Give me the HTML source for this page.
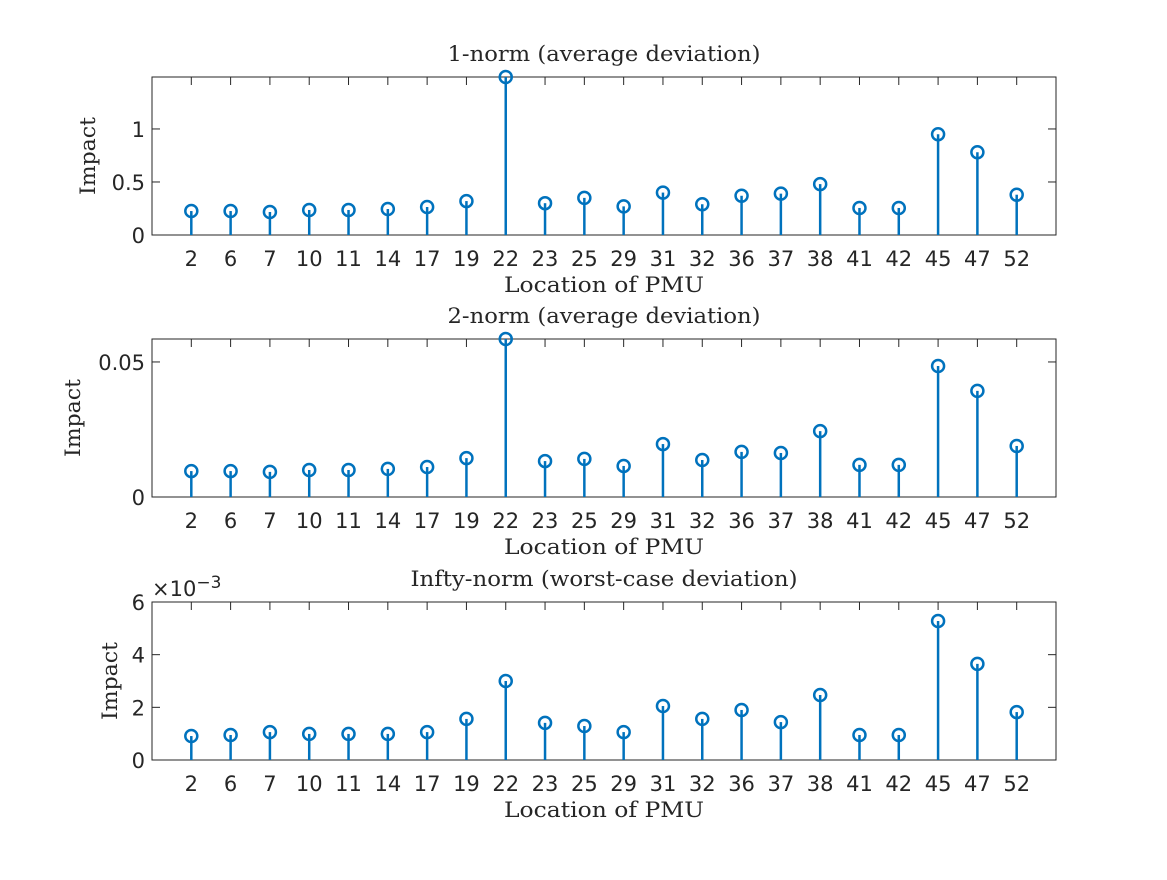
<!DOCTYPE html>
<html><head><meta charset="utf-8"><style>
body{margin:0;background:#fff;}
svg text{fill:#262626;}
.tk{font-family:"DejaVu Sans","Liberation Sans",sans-serif;font-size:21px;}
.sf{font-family:"DejaVu Serif","Liberation Serif",serif;font-size:21px;}
</style></head><body>
<svg id="chart" width="1167" height="875" xmlns="http://www.w3.org/2000/svg"></svg>
<script>
const categories=["2","6","7","10","11","14","17","19","22","23","25","29","31","32","36","37","38","41","42","45","47","52"];
const norm1Values=[0.226,0.226,0.217,0.236,0.236,0.245,0.264,0.32,1.49,0.30,0.35,0.27,0.40,0.29,0.37,0.39,0.48,0.255,0.255,0.95,0.78,0.38];
const norm2Values=[0.0096,0.0096,0.0093,0.010,0.010,0.0104,0.0111,0.0144,0.0585,0.0133,0.0141,0.0115,0.0196,0.0137,0.0167,0.0163,0.0244,0.0119,0.0119,0.0485,0.0393,0.0189];
const normInfValues=[0.91,0.95,1.06,0.99,0.99,0.99,1.06,1.56,3.0,1.41,1.29,1.06,2.05,1.56,1.9,1.44,2.47,0.95,0.95,5.28,3.65,1.82];
const ticks1=[0,0.5,1];const tickLabels1=["0","0.5","1"];
const ticks2=[0,0.05];const tickLabels2=["0","0.05"];
const ticks3=[0,2,4,6];const tickLabels3=["0","2","4","6"];
const NS="http://www.w3.org/2000/svg";
const svg=document.getElementById('chart');
function mk(tag,attrs,parent,text){const e=document.createElementNS(NS,tag);for(const k in attrs)e.setAttribute(k,attrs[k]);if(text!==undefined)e.textContent=text;(parent||svg).appendChild(e);return e;}
const C="#0072BD";
function panel(name,top,ymax,vals,ticks,labels,title,titleLen,ylabX,exp){
  const L=152,R=1056,B=top+158,T=top;
  const g=mk('g',{});
  
  
  const x=i=>L+(i+1)*(R-L)/(categories.length+1);
  const y=v=>B-v/ymax*(B-T);
  const box=mk('rect',{x:L,y:T,width:R-L,height:B-T,fill:'none',stroke:'#262626','stroke-width':1},g);
  
  categories.forEach((c,i)=>{
    mk('line',{x1:x(i),x2:x(i),y1:B,y2:B-8,stroke:'#262626'},g);
    mk('line',{x1:x(i),x2:x(i),y1:T,y2:T+8,stroke:'#262626'},g);
    const t=mk('text',{x:x(i),y:B+31,'text-anchor':'middle',class:'tk'},g,c);
    
  });
  ticks.forEach((v,i)=>{
    mk('line',{x1:L,x2:L+8,y1:y(v),y2:y(v),stroke:'#262626'},g);
    mk('line',{x1:R,x2:R-8,y1:y(v),y2:y(v),stroke:'#262626'},g);
    const t=mk('text',{x:L-7,y:y(v)+8,'text-anchor':'end',class:'tk'},g,labels[i]);
    
  });
  vals.forEach((v,i)=>{
    const s=mk('line',{x1:x(i),x2:x(i),y1:B,y2:y(v),stroke:C,'stroke-width':2.5},g);
    
    const m=mk('circle',{cx:x(i),cy:y(v),r:6,fill:'none',stroke:C,'stroke-width':2.5},g);
    
  });
  const ti=mk('text',{x:(L+R)/2,y:T-16,'text-anchor':'middle',class:'sf',textLength:titleLen,lengthAdjust:'spacingAndGlyphs'},g,title);
  
  const xl=mk('text',{x:(L+R)/2,y:B+57,'text-anchor':'middle',class:'sf',textLength:200,lengthAdjust:'spacingAndGlyphs'},g,'Location of PMU');
  
  const yl=mk('text',{x:ylabX,y:(T+B)/2,'text-anchor':'middle',class:'sf',textLength:78,lengthAdjust:'spacingAndGlyphs',transform:`rotate(-90 ${ylabX} ${(T+B)/2})`},g,'Impact');
  
  if(exp){const e=mk('text',{x:L,y:T-6,class:'tk'},g);
    
    mk('tspan',{},e,'×10');mk('tspan',{dy:-8,'font-size':'17px'},e,'−3');}
}
panel('panel-1-norm',77,1.49,norm1Values,ticks1,tickLabels1,'1-norm (average deviation)',313,95,false);
panel('panel-2-norm',339,0.0585,norm2Values,ticks2,tickLabels2,'2-norm (average deviation)',313,80,false);
panel('panel-infty-norm',602,6,normInfValues,ticks3,tickLabels3,'Infty-norm (worst-case deviation)',387,117,true);
</script>
</body></html>
